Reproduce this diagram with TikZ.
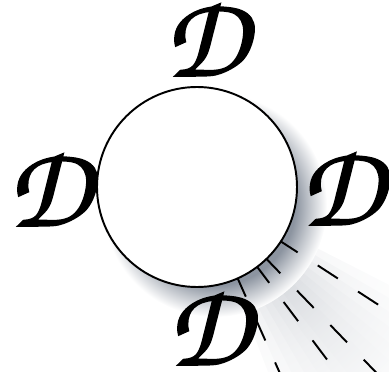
\documentclass[tikz,border=0pt]{standalone}
\usetikzlibrary{calc}

\definecolor{shadowgray}{RGB}{140,148,160}
\pgfdeclareradialshading{dropshade}{\pgfpoint{0bp}{0bp}}{color(0bp)=(shadowgray);color(17.9bp)=(shadowgray);color(21bp)=(shadowgray!55);color(25bp)=(white);color(50bp)=(white)}
\pgfdeclareradialshading{beamshade}{\pgfpoint{0bp}{0bp}}{color(0bp)=(shadowgray);color(8bp)=(shadowgray!70);color(16bp)=(shadowgray!30);color(25bp)=(white);color(50bp)=(white)}
\newcommand{\chanceryD}{{\usefont{T1}{pzc}{mb}{it}\fontsize{67}{67}\selectfont\special{pdf:literal direct 2 Tr 0.9 w}D\special{pdf:literal direct 0 Tr}}}

\begin{document}
\begin{tikzpicture}[disc/.style={circle, draw=black, line width=1.1pt, fill=white, minimum size=4cm, inner sep=0pt},
                    ray/.style={line width=1.1pt, dash pattern=on 0.48cm off 0.48cm},
                    beam/.style={shading=beamshade, opacity=0.12},
                    letter/.style={inner sep=0pt}]

            \clip (-3.94,-3.70) rectangle (3.84,3.74);
            \coordinate (o) at (0,0);

            % light beam, soft edges
            \foreach \w in {3,6,9,12,15,18,21} {
                \begin{scope}
                    \clip (o) -- (-48+\w:7) arc[start angle=-48+\w, end angle=-48-\w, radius=7] -- cycle;
                    \shade[beam] (o) circle (6);
                \end{scope}
            }

            % shadow
            \shade[shading=dropshade] (0.36,-0.36) circle (2.24);

            \coordinate (r1) at (-33:6);
            \coordinate (r2) at (-46:6);
            \coordinate (r3) at (-53:6);
            \coordinate (r4) at (-66:6);

            \draw[ray] (o) -- (r1);
            \draw[ray] (o) -- (r2);
            \draw[ray] (o) -- (r3);
            \draw[ray] (o) -- (r4);

            \node[disc] (c) at (o) {};

            \node[letter] (dtop)    at (0.18,2.98)   {\chanceryD};
            \node[letter] (dleft)   at (-2.96,-0.02) {\chanceryD};
            \node[letter] (dright)  at (2.89,0.0)    {\chanceryD};
            \node[letter] (dbottom) at (0.24,-2.8)   {\chanceryD};
        \end{tikzpicture}
\end{document}
